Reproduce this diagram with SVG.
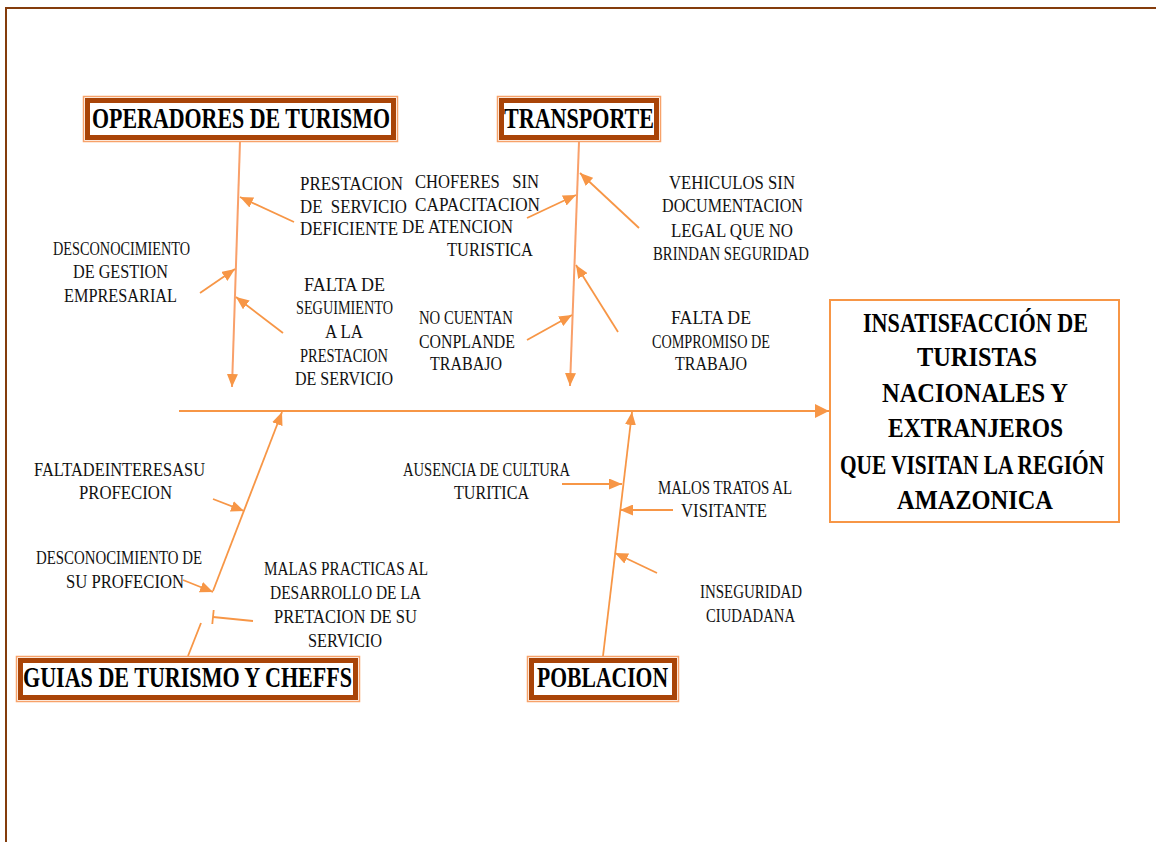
<svg xmlns="http://www.w3.org/2000/svg" width="1156" height="842" viewBox="0 0 1156 842">
<style>
.lbl{font-family:"Liberation Serif","Times New Roman",serif;font-size:19px;fill:#111}
.head{font-family:"Liberation Serif","Times New Roman",serif;font-size:30px;font-weight:bold;fill:#000}
.eff{font-family:"Liberation Serif","Times New Roman",serif;font-size:27px;font-weight:bold;fill:#000}
.hb-out{fill:#fff;stroke:#F7A26A;stroke-width:1.5}
.hb-in{fill:none;stroke:#A94407;stroke-width:5}
.ln{stroke:#F79646;stroke-width:1.8;fill:none}
.sp{stroke:#F9A06A;stroke-width:2;fill:none}
</style>
<defs>
<marker id="ah" markerUnits="userSpaceOnUse" markerWidth="13" markerHeight="11" refX="13" refY="5.5" orient="auto">
<path d="M0,0 L13,5.5 L0,11 z" fill="#F79646"/>
</marker>
<marker id="ahb" markerUnits="userSpaceOnUse" markerWidth="14" markerHeight="14" refX="14" refY="7" orient="auto">
<path d="M0,0 L14,7 L0,14 z" fill="#F79646"/>
</marker>
<marker id="tee" markerUnits="userSpaceOnUse" markerWidth="4" markerHeight="16" refX="2" refY="8" orient="auto">
<path d="M2,1 L2,15" stroke="#F79646" stroke-width="1.8"/>
</marker>
</defs>
<rect width="1156" height="842" fill="#fff"/>
<g id="page-border">
<path d="M6,842 L6,8 L1156,8" fill="none" stroke="#843C0C" stroke-width="2"/>
</g>
<g id="connectors">
<line class="ln" x1="179" y1="411" x2="829" y2="411" marker-end="url(#ahb)"/>
<line class="sp" x1="240" y1="142" x2="232" y2="387" marker-end="url(#ah)"/>
<line class="sp" x1="579" y1="142" x2="570" y2="386" marker-end="url(#ah)"/>
<line class="ln" x1="294" y1="222" x2="240" y2="197" marker-end="url(#ah)"/>
<line class="ln" x1="200" y1="293" x2="235" y2="269" marker-end="url(#ah)"/>
<line class="ln" x1="283" y1="333" x2="236" y2="297" marker-end="url(#ah)"/>
<line class="ln" x1="527" y1="218" x2="576" y2="195" marker-end="url(#ah)"/>
<line class="ln" x1="639" y1="228" x2="580" y2="173" marker-end="url(#ah)"/>
<line class="ln" x1="618" y1="332" x2="576" y2="265" marker-end="url(#ah)"/>
<line class="ln" x1="527" y1="340" x2="572" y2="315" marker-end="url(#ah)"/>
<line class="ln" x1="188" y1="656" x2="201" y2="623"/>
<line class="ln" x1="213" y1="591" x2="282" y2="412" marker-end="url(#ah)"/>
<line class="ln" x1="213" y1="499" x2="244" y2="511" marker-end="url(#ah)"/>
<line class="ln" x1="183" y1="580" x2="213" y2="592" marker-end="url(#ah)"/>
<line class="ln" x1="253" y1="621" x2="213" y2="617" marker-end="url(#tee)"/>
<line class="ln" x1="603" y1="656" x2="632" y2="412" marker-end="url(#ah)"/>
<line class="ln" x1="562" y1="484" x2="622" y2="484" marker-end="url(#ah)"/>
<line class="ln" x1="673" y1="510" x2="620" y2="510" marker-end="url(#ah)"/>
<line class="ln" x1="657" y1="573" x2="615" y2="553" marker-end="url(#ah)"/>
</g>
<g id="head-operadores">
<rect class="hb-out" x="83.5" y="96.5" width="314" height="45"/>
<rect class="hb-in" x="87.5" y="100.5" width="306" height="37"/>
<text class="head" x="92" y="128" textLength="298" lengthAdjust="spacingAndGlyphs">OPERADORES DE TURISMO</text>
</g>
<g id="head-transporte">
<rect class="hb-out" x="497.5" y="96.5" width="163" height="45"/>
<rect class="hb-in" x="501.5" y="100.5" width="155" height="37"/>
<text class="head" x="504" y="128" textLength="150" lengthAdjust="spacingAndGlyphs">TRANSPORTE</text>
</g>
<g id="head-guias">
<rect class="hb-out" x="16.5" y="656.5" width="343" height="45"/>
<rect class="hb-in" x="20.5" y="660.5" width="335" height="37"/>
<text class="head" x="23" y="687" textLength="329" lengthAdjust="spacingAndGlyphs">GUIAS DE TURISMO Y CHEFFS</text>
</g>
<g id="head-poblacion">
<rect class="hb-out" x="527.5" y="656.5" width="151" height="45"/>
<rect class="hb-in" x="531.5" y="660.5" width="143" height="37"/>
<text class="head" x="537" y="687" textLength="131" lengthAdjust="spacingAndGlyphs">POBLACION</text>
</g>
<g id="effect">
<rect x="830" y="300" width="289" height="222" fill="#fff" stroke="#F79646" stroke-width="2"/>
<text class="eff" x="863" y="332" textLength="225" lengthAdjust="spacingAndGlyphs">INSATISFACCIÓN DE</text>
<text class="eff" x="917" y="366" textLength="120" lengthAdjust="spacingAndGlyphs">TURISTAS</text>
<text class="eff" x="882" y="402" textLength="186" lengthAdjust="spacingAndGlyphs">NACIONALES Y</text>
<text class="eff" x="888" y="437" textLength="175" lengthAdjust="spacingAndGlyphs">EXTRANJEROS</text>
<text class="eff" transform="translate(840,474) scale(0.79,1)" x="0" y="0">QUE VISITAN LA REGIÓN</text>
<text class="eff" x="897" y="509" textLength="156" lengthAdjust="spacingAndGlyphs">AMAZONICA</text>
</g>
<g id="cause-prestacion-deficiente">
<text class="lbl" x="300" y="190" textLength="103" lengthAdjust="spacingAndGlyphs">PRESTACION</text>
<text class="lbl" x="300" y="213" textLength="107" lengthAdjust="spacingAndGlyphs" xml:space="preserve">DE  SERVICIO</text>
<text class="lbl" x="300" y="235" textLength="98" lengthAdjust="spacingAndGlyphs">DEFICIENTE</text>
</g>
<g id="cause-desconocimiento-gestion">
<text class="lbl" x="53" y="255" textLength="137" lengthAdjust="spacingAndGlyphs">DESCONOCIMIENTO</text>
<text class="lbl" x="73" y="278" textLength="95" lengthAdjust="spacingAndGlyphs">DE GESTION</text>
<text class="lbl" x="64" y="302" textLength="113" lengthAdjust="spacingAndGlyphs">EMPRESARIAL</text>
</g>
<g id="cause-falta-seguimiento">
<text class="lbl" x="304" y="291" textLength="81" lengthAdjust="spacingAndGlyphs">FALTA DE</text>
<text class="lbl" x="296" y="314" textLength="97" lengthAdjust="spacingAndGlyphs">SEGUIMIENTO</text>
<text class="lbl" x="325" y="338" textLength="38" lengthAdjust="spacingAndGlyphs">A LA</text>
<text class="lbl" x="300" y="362" textLength="88" lengthAdjust="spacingAndGlyphs">PRESTACION</text>
<text class="lbl" x="295" y="385" textLength="98" lengthAdjust="spacingAndGlyphs">DE SERVICIO</text>
</g>
<g id="cause-choferes">
<text class="lbl" x="415" y="188" textLength="124" lengthAdjust="spacingAndGlyphs" xml:space="preserve">CHOFERES   SIN</text>
<text class="lbl" x="415" y="211" textLength="125" lengthAdjust="spacingAndGlyphs">CAPACITACION</text>
<text class="lbl" x="402" y="233" textLength="111" lengthAdjust="spacingAndGlyphs">DE ATENCION</text>
<text class="lbl" x="447" y="256" textLength="86" lengthAdjust="spacingAndGlyphs">TURISTICA</text>
</g>
<g id="cause-vehiculos">
<text class="lbl" x="669" y="189" textLength="126" lengthAdjust="spacingAndGlyphs">VEHICULOS SIN</text>
<text class="lbl" x="662" y="212" textLength="141" lengthAdjust="spacingAndGlyphs">DOCUMENTACION</text>
<text class="lbl" x="671" y="237" textLength="122" lengthAdjust="spacingAndGlyphs">LEGAL QUE NO</text>
<text class="lbl" x="653" y="260" textLength="156" lengthAdjust="spacingAndGlyphs">BRINDAN SEGURIDAD</text>
</g>
<g id="cause-no-cuentan">
<text class="lbl" x="419" y="324" textLength="94" lengthAdjust="spacingAndGlyphs">NO CUENTAN</text>
<text class="lbl" x="419" y="348" textLength="96" lengthAdjust="spacingAndGlyphs">CONPLANDE</text>
<text class="lbl" x="430" y="370" textLength="72" lengthAdjust="spacingAndGlyphs">TRABAJO</text>
</g>
<g id="cause-falta-compromiso">
<text class="lbl" x="671" y="324" textLength="80" lengthAdjust="spacingAndGlyphs">FALTA DE</text>
<text class="lbl" x="652" y="348" textLength="118" lengthAdjust="spacingAndGlyphs">COMPROMISO DE</text>
<text class="lbl" x="675" y="370" textLength="72" lengthAdjust="spacingAndGlyphs">TRABAJO</text>
</g>
<g id="cause-falta-interes">
<text class="lbl" x="34" y="476" textLength="171" lengthAdjust="spacingAndGlyphs">FALTADEINTERESASU</text>
<text class="lbl" x="79" y="499" textLength="93" lengthAdjust="spacingAndGlyphs">PROFECION</text>
</g>
<g id="cause-desconocimiento-profecion">
<text class="lbl" x="36" y="564" textLength="166" lengthAdjust="spacingAndGlyphs">DESCONOCIMIENTO DE</text>
<text class="lbl" x="66" y="588" textLength="118" lengthAdjust="spacingAndGlyphs">SU PROFECION</text>
</g>
<g id="cause-malas-practicas">
<text class="lbl" x="264" y="575" textLength="164" lengthAdjust="spacingAndGlyphs">MALAS PRACTICAS AL</text>
<text class="lbl" x="270" y="599" textLength="151" lengthAdjust="spacingAndGlyphs">DESARROLLO DE LA</text>
<text class="lbl" x="274" y="623" textLength="143" lengthAdjust="spacingAndGlyphs">PRETACION DE SU</text>
<text class="lbl" x="308" y="647" textLength="74" lengthAdjust="spacingAndGlyphs">SERVICIO</text>
</g>
<g id="cause-ausencia-cultura">
<text class="lbl" x="403" y="476" textLength="167" lengthAdjust="spacingAndGlyphs">AUSENCIA DE CULTURA</text>
<text class="lbl" x="454" y="499" textLength="75" lengthAdjust="spacingAndGlyphs">TURITICA</text>
</g>
<g id="cause-malos-tratos">
<text class="lbl" x="658" y="494" textLength="134" lengthAdjust="spacingAndGlyphs">MALOS TRATOS AL</text>
<text class="lbl" x="681" y="517" textLength="86" lengthAdjust="spacingAndGlyphs">VISITANTE</text>
</g>
<g id="cause-inseguridad">
<text class="lbl" x="700" y="598" textLength="102" lengthAdjust="spacingAndGlyphs">INSEGURIDAD</text>
<text class="lbl" x="706" y="622" textLength="89" lengthAdjust="spacingAndGlyphs">CIUDADANA</text>
</g>
</svg>
